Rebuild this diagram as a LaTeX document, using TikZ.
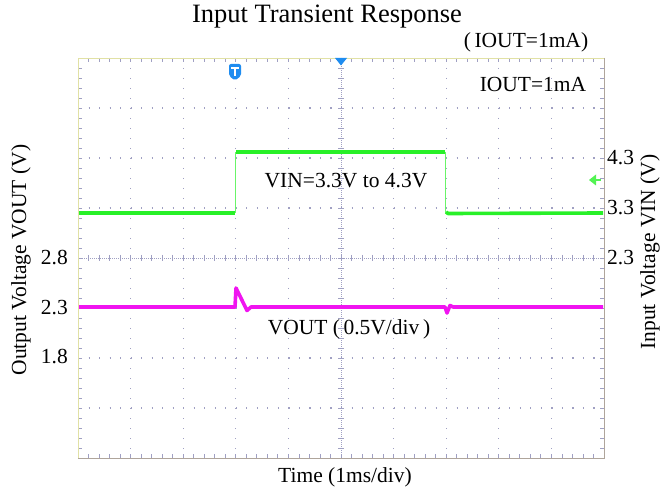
\documentclass[tikz,border=0pt]{standalone}
\usepackage{fontspec}
\setmainfont{Liberation Serif}
\definecolor{gridc}{RGB}{160,160,195}
\definecolor{trgreen}{RGB}{40,240,40}
\definecolor{trmag}{RGB}{240,20,240}
\definecolor{mkblue}{RGB}{30,140,240}
\definecolor{frameY}{RGB}{225,225,165}
\definecolor{frameG}{RGB}{175,165,155}
\begin{document}
\begin{tikzpicture}[x=1pt,y=-1pt,
  lbl/.style={inner sep=0pt, font=\fontsize{21.5}{25}\selectfont},
  ttl/.style={inner sep=0pt, font=\fontsize{26.5}{31}\selectfont},
  vgrid/.style={gridc, line width=1.1pt, dash pattern=on 1.1pt off 8.9pt},
  hgrid/.style={gridc, line width=1.1pt, dash pattern=on 1.1pt off 9.42pt},
  cgrid/.style={gridc, line width=0.8pt, dash pattern=on 1pt off 1pt},
  tick/.style={gridc, line width=0.8pt},
  trace/.style={line width=3.6pt, line join=round, line cap=butt},
  edge/.style={line width=0.7pt}]
\useasboundingbox (0,0) rectangle (661,494);
\fill[white] (0,0) rectangle (661,494);
\def\L{78}\def\R{604}\def\T{58}\def\B{458}\def\dx{52.6}
% grid
\foreach \k in {1,2,3,4,6,7,8,9} {\draw[vgrid] ({\L+\k*\dx},\T) -- ({\L+\k*\dx},\B);}
\foreach \j in {1,2,3,5,6,7} {\draw[hgrid] (\L,{\T+\j*50}) -- (\R,{\T+\j*50});}
\draw[cgrid] (341,\T) -- (341,\B);
\draw[cgrid] (\L,258) -- (\R,258);
\foreach \i in {1,...,39} {\draw[tick] (338,{\T+\i*10}) -- (344,{\T+\i*10});
  \draw[tick] (\L,{\T+\i*10}) -- ({\L+4},{\T+\i*10});
  \draw[tick] (\R,{\T+\i*10}) -- ({\R-4},{\T+\i*10});}
\foreach \i in {1,...,49} {\draw[tick] ({\L+\i*10.52},255) -- ({\L+\i*10.52},261);
  \draw[tick] ({\L+\i*10.52},\T) -- ({\L+\i*10.52},{\T+4});
  \draw[tick] ({\L+\i*10.52},\B) -- ({\L+\i*10.52},{\B-4});}
% frame
\draw[edge, frameY] (\L,\B) -- (\L,\T) -- (\R,\T);
\draw[edge, frameG] (\R,\T) -- (\R,\B) -- (\L,\B);
% traces
\draw[trace, trgreen] (79,213) -- (235,213);
\draw[trgreen!70!white, line width=1.2pt] (235.5,213) -- (235.5,152);
\draw[trace, trgreen] (236,152) -- (445,152);
\draw[trgreen!70!white, line width=1.2pt] (445.5,152) -- (445.5,213);
\draw[trace, trgreen] (446,212) -- (448,213.5) -- (603,213);
\draw[trace, trmag] (79,307) -- (235,307) -- (236,288) -- (247,310.5) -- (251,307) -- (445,307)
  -- (447,313) -- (450,305.5) -- (453,307) -- (603,307);
% markers
\fill[mkblue, rounded corners=2pt] (229,64) -- (241,64) -- (241,76) -- (235,80.5) -- (229,76) -- cycle;
\draw[white, line width=2pt] (231.2,67.8) -- (238.8,67.8) (235,67.8) -- (235,76.5);
\fill[mkblue] (335,58) -- (347,58) -- (341,65.5) -- cycle;
\fill[trgreen!80!white] (589,180) -- (596,174.5) -- (596,185.5) -- cycle;
\draw[trgreen!80!white, line width=2pt] (595,180) -- (601,180);
% texts
\node[ttl] (title) at (327,17) {Input Transient Response};
\node[lbl] (cond) at (526,42) {(\,IOUT=1mA)};
\node[lbl] (iout) at (533,84) {IOUT=1mA};
\node[lbl] (vin) at (346,181) {VIN=3.3V to 4.3V};
\node[lbl] (vout) at (349,329) {VOUT (\,0.5V/div\,)};
\node[lbl] (time) at (345,477) {Time (1ms/div)};
\node[lbl, anchor=east] (l28) at (68,258) {2.8};
\node[lbl, anchor=east] (l23) at (68,308) {2.3};
\node[lbl, anchor=east] (l18) at (68,357) {1.8};
\node[lbl, anchor=west] (r43) at (607,158) {4.3};
\node[lbl, anchor=west] (r33) at (607,208) {3.3};
\node[lbl, anchor=west] (r23) at (607,258) {2.3};
\node[lbl, rotate=90] (ylab) at (21,260) {Output Voltage VOUT (V)};
\node[lbl, rotate=90] (y2lab) at (650,252) {Input Voltage VIN (V)};
\end{tikzpicture}
\end{document}
